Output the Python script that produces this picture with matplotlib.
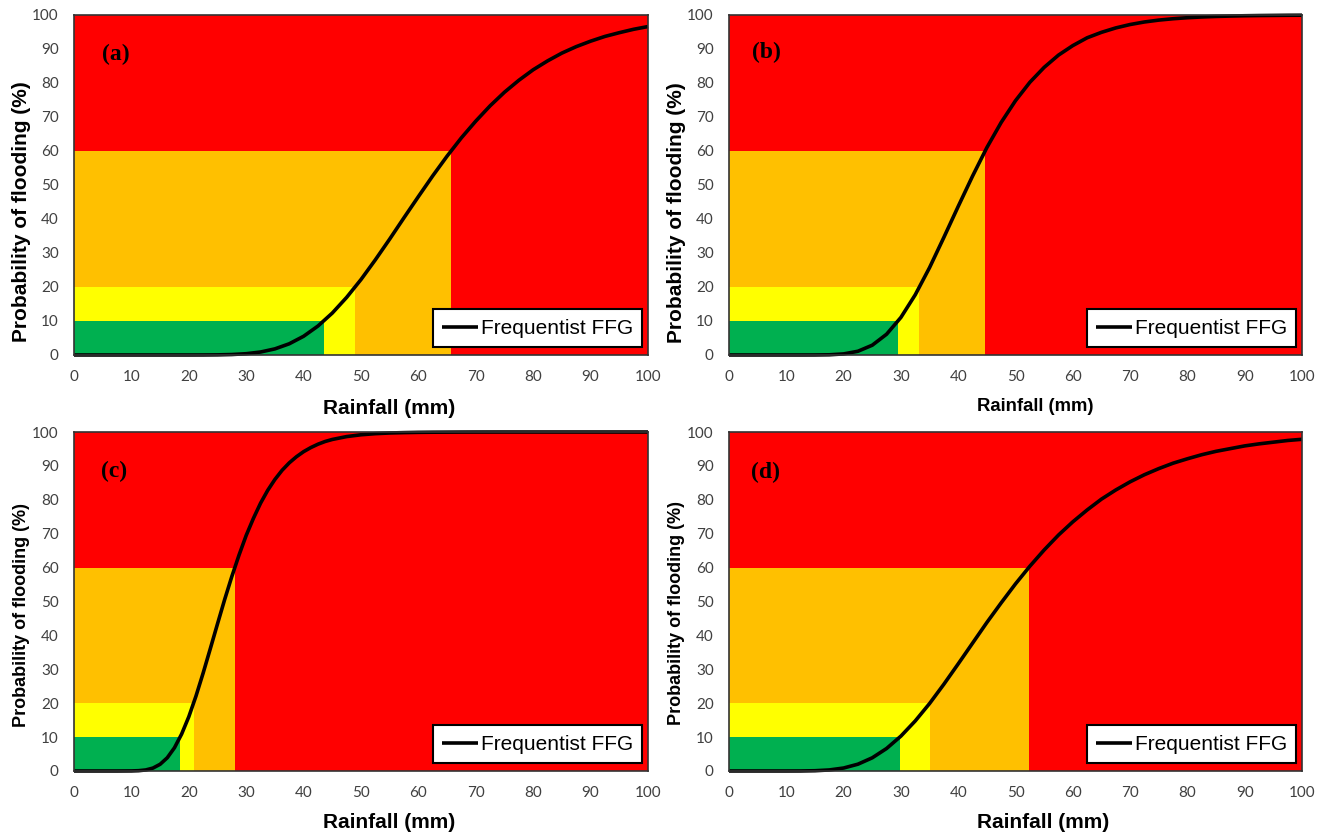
import matplotlib
matplotlib.use("Agg")
import matplotlib.pyplot as plt
from matplotlib.font_manager import FontProperties

# ---------------- data ----------------
panel_tags = ["(a)", "(b)", "(c)", "(d)"]
legend_label = "Frequentist FFG"
x_label = "Rainfall (mm)"
y_label = "Probability of flooding (%)"
x_ticks = [0, 10, 20, 30, 40, 50, 60, 70, 80, 90, 100]
y_ticks = [0, 10, 20, 30, 40, 50, 60, 70, 80, 90, 100]

# rainfall thresholds (mm) where the curve reaches 10 %, 20 % and 60 %
thr_10 = [43.5, 29.5, 18.5, 29.8]
thr_20 = [49.0, 33.2, 20.9, 35.0]
thr_60 = [65.7, 44.7, 28.0, 52.3]
band_top = [10, 20, 60]

rain_grid = [0, 2.5, 5, 7.5, 10, 12.5, 15, 17.5, 20, 22.5, 25, 27.5, 30,
             32.5, 35, 37.5, 40, 42.5, 45, 47.5, 50, 52.5, 55, 57.5, 60,
             62.5, 65, 67.5, 70, 72.5, 75, 77.5, 80, 82.5, 85, 87.5, 90,
             92.5, 95, 97.5, 100]

prob_a = [0, 0, 0, 0, 0, 0, 0, 0, 0, 0.01, 0.04, 0.14, 0.38,
          0.88, 1.8, 3.3, 5.51, 8.52, 12.34, 16.95, 22.2, 28.0, 34.1, 40.4, 46.6,
          52.7, 58.5, 63.9, 68.8, 73.3, 77.3, 80.8, 83.9, 86.5, 88.8, 90.7, 92.3,
          93.7, 94.8, 95.8, 96.6]

prob_b = [0, 0, 0, 0, 0, 0, 0.01, 0.06, 0.32, 1.10, 2.88, 6.11, 11.05,
          17.7, 25.7, 34.6, 43.7, 52.6, 61.0, 68.4, 74.8, 80.2, 84.6, 88.2, 91.0,
          93.3, 94.9, 96.2, 97.2, 97.95, 98.5, 98.9, 99.2, 99.42, 99.58, 99.69, 99.78,
          99.84, 99.88, 99.92, 99.94]

rain_c = [0, 2.5, 5, 7.5, 10, 11.25, 12.5, 13.75, 15, 16.25, 17.5, 18.75, 20,
          21.25, 22.5, 23.75, 25, 26.25, 27.5, 28.75, 30, 31.25, 32.5, 33.75,
          35, 36.25, 37.5, 38.75, 40, 41.25, 42.5, 43.75, 45, 47.5, 50, 52.5,
          55, 57.5, 60, 62.5, 65, 67.5, 70, 75, 80, 85, 90, 95, 100]
prob_c = [0, 0, 0, 0, 0.02, 0.09, 0.31, 0.86, 1.98, 3.91, 6.85, 10.9, 16.0,
          22.1, 28.9, 36.1, 43.4, 50.6, 57.4, 63.7, 69.5, 74.5, 79.0, 82.8,
          86.0, 88.7, 90.9, 92.7, 94.2, 95.4, 96.4, 97.2, 97.8, 98.65, 99.18, 99.51,
          99.71, 99.82, 99.90, 99.94, 99.96, 99.98, 99.99, 100, 100, 100, 100, 100, 100]

prob_d = [0, 0, 0, 0, 0, 0.01, 0.08, 0.31, 0.88, 2.01, 3.89, 6.64, 10.29,
          14.76, 19.9, 25.6, 31.6, 37.7, 43.8, 49.6, 55.2, 60.4, 65.2, 69.6, 73.5,
          77.0, 80.2, 82.9, 85.3, 87.4, 89.2, 90.8, 92.1, 93.3, 94.3, 95.1, 95.9,
          96.5, 97.0, 97.5, 97.85]

curves_x = [rain_grid, rain_grid, rain_c, rain_grid]
curves_y = [prob_a, prob_b, prob_c, prob_d]

# ---------------- styling ----------------
RED = "#FF0000"
ORANGE = "#FFC000"
YELLOW = "#FFFF00"
GREEN = "#00B050"
band_colors = [GREEN, YELLOW, ORANGE]

W, H = 1327, 834
fig = plt.figure(figsize=(W / 100, H / 100), dpi=100)

# axes boxes in pixels: (left, top, right, bottom)
boxes = [(74, 15, 648, 355), (729, 15, 1302, 355),
         (74, 432, 648, 771), (729, 432, 1302, 771)]
ylabel_pos = [(-0.0906, 0.421), (-0.0908, 0.42), (-0.092, 0.46), (-0.091, 0.466)]
ylabel_size = [15, 15, 13, 13]
xlabel_pos = [(0.549, -0.157), (0.534, -0.152), (0.549, -0.151), (0.548, -0.151)]
xlabel_size = [15, 13.3, 15, 15]
tag_pos = [(0.072, 0.885), (0.065, 0.89), (0.07, 0.885), (0.063, 0.88)]

tick_font = FontProperties(family="Lato", size=11)
label_family = "Liberation Sans"
legend_font = FontProperties(family="Liberation Sans", size=15)
tag_font = FontProperties(family="Liberation Serif", weight="bold", size=17)

for i in range(4):
    l, t, r, b = boxes[i]
    ax = fig.add_axes([l / W, 1 - b / H, (r - l) / W, (b - t) / H])
    ax.set_facecolor(RED)
    thr = [thr_10[i], thr_20[i], thr_60[i]]
    # draw bands from the largest to the smallest
    for k in [2, 1, 0]:
        ax.bar(0, band_top[k], width=thr[k], align="edge",
               color=band_colors[k], linewidth=0, zorder=1)
    ax.plot(curves_x[i], curves_y[i], color="black", lw=2.6,
            label=legend_label, zorder=3, clip_on=False,
            solid_capstyle="butt", solid_joinstyle="round")
    ax.set_xlim(0, 100)
    ax.set_ylim(0, 100)
    ax.set_xticks(x_ticks)
    ax.set_yticks(y_ticks)
    ax.tick_params(length=0, pad=11, colors="#404040")
    for lab in ax.get_xticklabels() + ax.get_yticklabels():
        lab.set_fontproperties(tick_font)
        lab.set_color("#404040")
    for sp in ax.spines.values():
        sp.set_color("#333333")
        sp.set_linewidth(1.2)
        sp.set_zorder(4)

    ax.set_ylabel(y_label, family=label_family, weight="bold",
                  fontsize=ylabel_size[i], color="black",
                  rotation=90, ha="center", va="center")
    ax.yaxis.set_label_coords(*ylabel_pos[i])
    ax.set_xlabel(x_label, family=label_family, weight="bold",
                  fontsize=xlabel_size[i], color="black",
                  ha="center", va="center")
    ax.xaxis.set_label_coords(*xlabel_pos[i])

    ax.text(tag_pos[i][0], tag_pos[i][1], panel_tags[i], transform=ax.transAxes,
            ha="center", va="center", fontproperties=tag_font, color="black",
            zorder=5)

    leg = ax.legend(loc="lower right", bbox_to_anchor=(0.99, 0.023),
                    borderaxespad=0, prop=legend_font, frameon=True,
                    fancybox=False, edgecolor="black", framealpha=1,
                    borderpad=0.45, handlelength=1.7, handletextpad=0.15)
    leg.get_frame().set_linewidth(1.5)
    leg.set_zorder(6)

fig.savefig("out.png", dpi=100)
